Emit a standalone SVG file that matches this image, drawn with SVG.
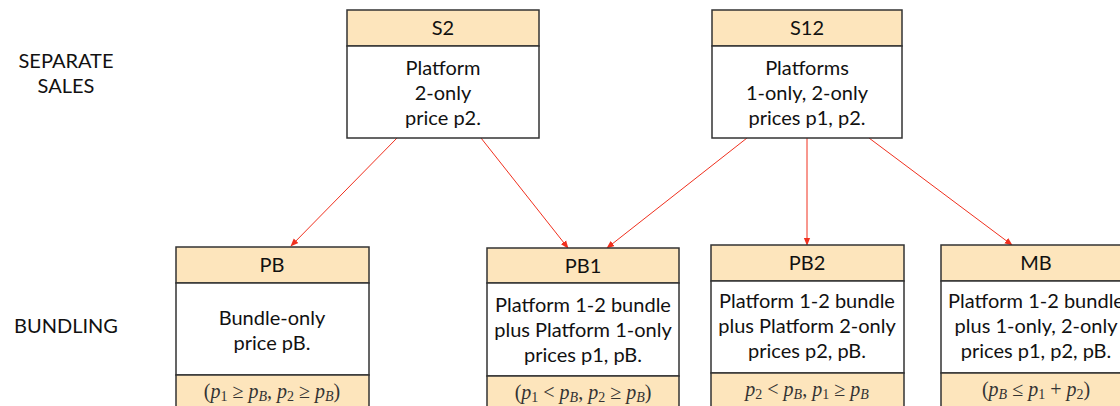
<svg xmlns="http://www.w3.org/2000/svg" width="1120" height="406" viewBox="0 0 1120 406">
<style>
.hd{fill:#fde5bc;stroke:#333;stroke-width:1.5}
.bd{fill:#fff;stroke:#333;stroke-width:1.5}
.t{font-family:Lato,"Open Sans",sans-serif;font-size:20px;fill:#111;text-anchor:middle}
.m{font-family:"Liberation Serif","DejaVu Serif",serif;font-size:20px;fill:#333;text-anchor:middle}
.i{font-style:italic}
.s{font-size:14px}
.c{stroke:#f0301e;stroke-width:1;fill:none;marker-end:url(#ah)}
</style>
<defs>
<marker id="ah" viewBox="0 0 10 10" refX="9" refY="5" markerWidth="8" markerHeight="8" orient="auto" markerUnits="userSpaceOnUse">
<path d="M0,1 L10,5 L0,9 Z" fill="#f0301e"/>
</marker>
</defs>
<text class="t" x="66" y="68">SEPARATE</text>
<text class="t" x="66" y="93">SALES</text>
<text class="t" x="66" y="333">BUNDLING</text>
<g id="connectors">
<line class="c" x1="397" y1="138" x2="291" y2="246"/>
<line class="c" x1="481" y1="138" x2="568" y2="248"/>
<line class="c" x1="747" y1="138" x2="607" y2="248"/>
<line class="c" x1="807" y1="138" x2="807" y2="245"/>
<line class="c" x1="869" y1="138" x2="1012" y2="245"/>
</g>
<g id="S2">
<rect class="hd" x="347" y="10" width="192" height="36"/>
<rect class="bd" x="347" y="46" width="192" height="92"/>
<text class="t" x="443" y="35">S2</text>
<text class="t" x="443" y="75">Platform</text>
<text class="t" x="443" y="100">2-only</text>
<text class="t" x="443" y="125">price p2.</text>
</g>
<g id="S12">
<rect class="hd" x="712" y="10" width="190" height="36"/>
<rect class="bd" x="712" y="46" width="190" height="92"/>
<text class="t" x="807" y="35">S12</text>
<text class="t" x="807" y="75">Platforms</text>
<text class="t" x="807" y="100">1-only, 2-only</text>
<text class="t" x="807" y="125">prices p1, p2.</text>
</g>
<g id="PB">
<rect class="hd" x="176" y="247" width="193" height="36"/>
<rect class="bd" x="176" y="283" width="193" height="92"/>
<rect class="hd" x="176" y="375" width="193" height="45"/>
<text class="t" x="272" y="272">PB</text>
<text class="t" x="272" y="325">Bundle-only</text>
<text class="t" x="272" y="350">price pB.</text>
<text class="m" x="272" y="398">(<tspan class="i">p</tspan><tspan class="s" dy="3">1</tspan><tspan dy="-3"> ≥ </tspan><tspan class="i">p</tspan><tspan class="s i" dy="3">B</tspan><tspan dy="-3">, </tspan><tspan class="i">p</tspan><tspan class="s" dy="3">2</tspan><tspan dy="-3"> ≥ </tspan><tspan class="i">p</tspan><tspan class="s i" dy="3">B</tspan><tspan dy="-3">)</tspan></text>
</g>
<g id="PB1">
<rect class="hd" x="487" y="248" width="192" height="35"/>
<rect class="bd" x="487" y="283" width="192" height="93"/>
<rect class="hd" x="487" y="376" width="192" height="45"/>
<text class="t" x="583" y="273">PB1</text>
<text class="t" x="583" y="312">Platform 1-2 bundle</text>
<text class="t" x="583" y="337">plus Platform 1-only</text>
<text class="t" x="583" y="362">prices p1, pB.</text>
<text class="m" x="583" y="399">(<tspan class="i">p</tspan><tspan class="s" dy="3">1</tspan><tspan dy="-3"> &lt; </tspan><tspan class="i">p</tspan><tspan class="s i" dy="3">B</tspan><tspan dy="-3">, </tspan><tspan class="i">p</tspan><tspan class="s" dy="3">2</tspan><tspan dy="-3"> ≥ </tspan><tspan class="i">p</tspan><tspan class="s i" dy="3">B</tspan><tspan dy="-3">)</tspan></text>
</g>
<g id="PB2">
<rect class="hd" x="711" y="245" width="193" height="36"/>
<rect class="bd" x="711" y="281" width="193" height="92"/>
<rect class="hd" x="711" y="373" width="193" height="45"/>
<text class="t" x="807" y="270">PB2</text>
<text class="t" x="807" y="308">Platform 1-2 bundle</text>
<text class="t" x="807" y="333">plus Platform 2-only</text>
<text class="t" x="807" y="358">prices p2, pB.</text>
<text class="m" x="807" y="396"><tspan class="i">p</tspan><tspan class="s" dy="3">2</tspan><tspan dy="-3"> &lt; </tspan><tspan class="i">p</tspan><tspan class="s i" dy="3">B</tspan><tspan dy="-3">, </tspan><tspan class="i">p</tspan><tspan class="s" dy="3">1</tspan><tspan dy="-3"> ≥ </tspan><tspan class="i">p</tspan><tspan class="s i" dy="3">B</tspan></text>
</g>
<g id="MB">
<rect class="hd" x="941" y="245" width="193" height="36"/>
<rect class="bd" x="941" y="281" width="193" height="92"/>
<rect class="hd" x="941" y="373" width="193" height="45"/>
<text class="t" x="1036" y="270">MB</text>
<text class="t" x="1036" y="308">Platform 1-2 bundle</text>
<text class="t" x="1036" y="333">plus 1-only, 2-only</text>
<text class="t" x="1036" y="358">prices p1, p2, pB.</text>
<text class="m" x="1036" y="396">(<tspan class="i">p</tspan><tspan class="s i" dy="3">B</tspan><tspan dy="-3"> ≤ </tspan><tspan class="i">p</tspan><tspan class="s" dy="3">1</tspan><tspan dy="-3"> + </tspan><tspan class="i">p</tspan><tspan class="s" dy="3">2</tspan><tspan dy="-3">)</tspan></text>
</g>
</svg>
